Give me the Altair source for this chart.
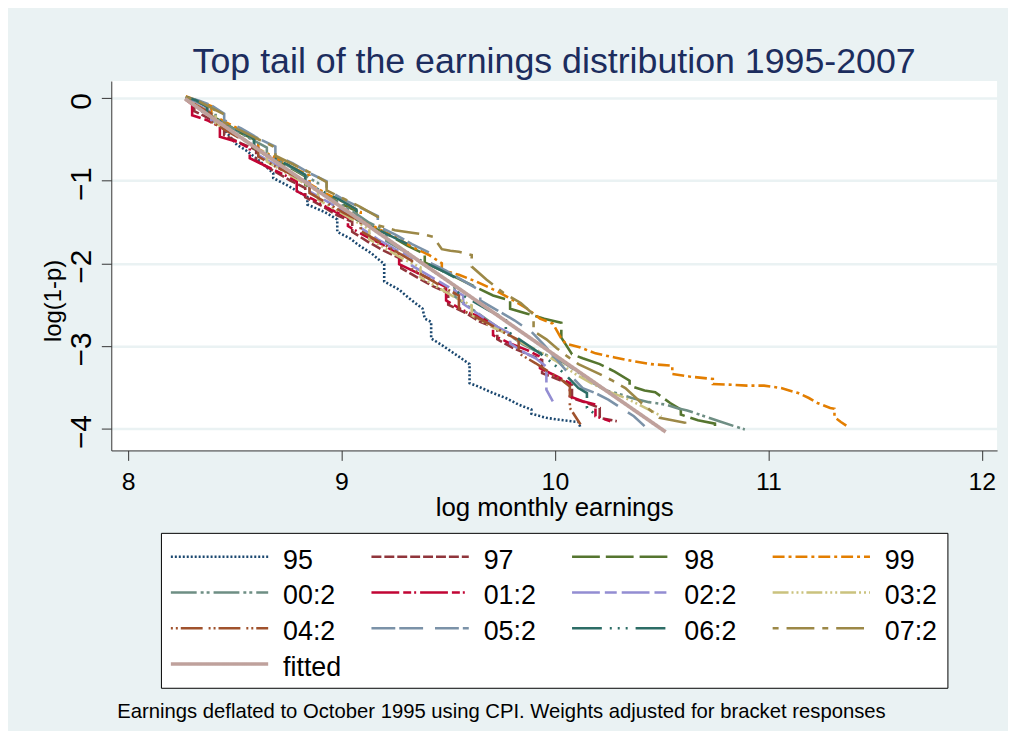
import altair as alt
import pandas as pd

FONT = "Liberation Sans"

series_names = ["95", "97", "98", "99", "00:2", "01:2", "02:2", "03:2",
                "04:2", "05:2", "06:2", "07:2", "fitted"]
series_colors = ["#1a476f", "#90353b", "#55752f", "#e37e00", "#6e8e84", "#c10534",
                 "#938dd2", "#cac27e", "#a0522d", "#7b92a8", "#2d6d66", "#9c8847", "#bfa19c"]
series_dashes = [[2, 2], [10, 3], [28, 6], [12, 4, 3, 4], [26, 4, 3, 3, 3, 4],
                 [28, 4, 8, 3, 2, 4], [28, 5, 12, 5], [16, 3, 2, 3, 2, 3, 2, 3],
                 [2, 3, 2, 3, 22, 6], [24, 4, 24, 12], [30, 8, 2, 6, 2, 6, 2, 8],
                 [6, 8, 28, 8], [1, 0]]

x_95 = [8.27, 8.32, 8.35, 8.39, 8.44, 8.51, 8.55, 8.61, 8.68, 8.68, 8.74, 8.84, 8.84, 8.92, 8.98, 8.98,
        9.04, 9.08, 9.14, 9.20, 9.20, 9.27, 9.32, 9.38, 9.39, 9.42, 9.42, 9.47, 9.55, 9.60, 9.60, 9.64,
        9.71, 9.77, 9.83, 9.89, 9.89, 9.96, 10.04, 10.11, 10.12]
y_95 = [-0.01, -0.10, -0.17, -0.23, -0.35, -0.57, -0.63, -0.75, -0.91, -0.97, -1.05, -1.20, -1.29, -1.38,
        -1.47, -1.62, -1.70, -1.78, -1.88, -2.01, -2.22, -2.32, -2.43, -2.55, -2.67, -2.71, -2.91, -2.99,
        -3.13, -3.22, -3.45, -3.49, -3.57, -3.63, -3.71, -3.77, -3.82, -3.87, -3.90, -3.92, -3.99]

x_97 = [8.27, 8.31, 8.31, 8.38, 8.45, 8.45, 8.53, 8.60, 8.60, 8.68, 8.76, 8.83, 8.83, 8.91, 8.98, 9.05,
        9.05, 9.13, 9.20, 9.28, 9.28, 9.36, 9.43, 9.50, 9.50, 9.58, 9.65, 9.73, 9.73, 9.80, 9.88, 9.94,
        9.94, 10.01, 10.08, 10.08, 10.15, 10.21, 10.21, 10.29]
y_97 = [-0.01, -0.06, -0.16, -0.25, -0.33, -0.45, -0.55, -0.63, -0.76, -0.88, -1.00, -1.09, -1.20, -1.31,
        -1.42, -1.50, -1.62, -1.75, -1.85, -1.95, -2.06, -2.18, -2.28, -2.36, -2.50, -2.60, -2.71, -2.79,
        -2.92, -3.02, -3.11, -3.17, -3.33, -3.40, -3.47, -3.63, -3.69, -3.75, -3.87, -3.91]

x_98 = [8.27, 8.32, 8.37, 8.37, 8.45, 8.53, 8.59, 8.59, 8.67, 8.75, 8.83, 8.83, 8.91, 8.99, 9.07, 9.07,
        9.15, 9.23, 9.31, 9.39, 9.39, 9.47, 9.55, 9.63, 9.71, 9.79, 9.79, 9.87, 9.95, 10.03, 10.03, 10.08,
        10.13, 10.21, 10.28, 10.35, 10.35, 10.42, 10.47, 10.54, 10.59, 10.59, 10.67, 10.75, 10.75]
y_98 = [0.0, -0.03, -0.10, -0.19, -0.30, -0.43, -0.50, -0.61, -0.73, -0.83, -0.95, -1.05, -1.15, -1.27,
        -1.37, -1.47, -1.57, -1.67, -1.79, -1.89, -1.99, -2.09, -2.19, -2.29, -2.39, -2.45, -2.55, -2.61,
        -2.67, -2.72, -2.90, -3.10, -3.15, -3.22, -3.31, -3.42, -3.48, -3.54, -3.56, -3.69, -3.77, -3.83,
        -3.90, -3.94, -4.02]

x_99 = [8.27, 8.33, 8.39, 8.39, 8.47, 8.55, 8.61, 8.61, 8.69, 8.77, 8.85, 8.85, 8.93, 9.01, 9.09, 9.09,
        9.17, 9.25, 9.33, 9.41, 9.47, 9.47, 9.55, 9.63, 9.73, 9.80, 9.87, 9.93, 9.99, 10.03, 10.05, 10.12,
        10.19, 10.28, 10.36, 10.45, 10.55, 10.55, 10.63, 10.74, 10.74, 10.83, 10.90, 10.98, 11.06, 11.14,
        11.19, 11.23, 11.29, 11.31, 11.31, 11.34, 11.38]
y_99 = [0.02, -0.04, -0.10, -0.20, -0.31, -0.42, -0.52, -0.62, -0.72, -0.84, -0.94, -1.04, -1.16, -1.26,
        -1.38, -1.46, -1.58, -1.68, -1.80, -1.90, -2.00, -2.08, -2.14, -2.22, -2.34, -2.44, -2.55, -2.67,
        -2.73, -2.91, -2.97, -3.02, -3.09, -3.14, -3.18, -3.22, -3.24, -3.34, -3.37, -3.40, -3.46, -3.47,
        -3.48, -3.48, -3.51, -3.57, -3.63, -3.69, -3.75, -3.76, -3.86, -3.92, -3.99]

x_00 = [8.27, 8.34, 8.41, 8.41, 8.49, 8.57, 8.65, 8.65, 8.73, 8.81, 8.89, 8.89, 8.97, 9.05, 9.13, 9.21,
        9.21, 9.29, 9.37, 9.45, 9.53, 9.53, 9.61, 9.69, 9.77, 9.85, 9.91, 9.97, 10.04, 10.11, 10.18, 10.24,
        10.30, 10.36, 10.44, 10.52, 10.57, 10.62, 10.70, 10.77, 10.84, 10.89]
y_00 = [0.0, -0.07, -0.15, -0.25, -0.37, -0.49, -0.60, -0.69, -0.79, -0.91, -1.03, -1.13, -1.25, -1.37,
        -1.51, -1.61, -1.73, -1.85, -1.99, -2.13, -2.27, -2.40, -2.55, -2.70, -2.84, -2.98, -3.06, -3.12,
        -3.20, -3.32, -3.45, -3.54, -3.58, -3.63, -3.68, -3.71, -3.75, -3.78, -3.85, -3.91, -3.97, -4.01]

x_01 = [8.27, 8.30, 8.30, 8.37, 8.43, 8.43, 8.51, 8.57, 8.57, 8.65, 8.73, 8.79, 8.79, 8.87, 8.95, 9.03,
        9.03, 9.11, 9.19, 9.27, 9.27, 9.35, 9.43, 9.49, 9.49, 9.57, 9.65, 9.71, 9.71, 9.79, 9.87, 9.93,
        9.93, 10.01, 10.07, 10.07, 10.13, 10.19, 10.19, 10.26]
y_01 = [-0.02, -0.08, -0.21, -0.27, -0.35, -0.47, -0.53, -0.61, -0.73, -0.83, -0.93, -1.01, -1.13, -1.23,
        -1.35, -1.45, -1.55, -1.67, -1.77, -1.89, -2.01, -2.11, -2.21, -2.29, -2.45, -2.57, -2.65, -2.75,
        -2.87, -2.97, -3.05, -3.13, -3.27, -3.37, -3.45, -3.61, -3.67, -3.71, -3.85, -3.91]

x_02 = [8.27, 8.33, 8.39, 8.39, 8.47, 8.55, 8.61, 8.61, 8.69, 8.77, 8.85, 8.85, 8.93, 9.01, 9.09, 9.09,
        9.17, 9.25, 9.33, 9.33, 9.41, 9.49, 9.57, 9.57, 9.65, 9.73, 9.79, 9.79, 9.85, 9.91, 9.96, 9.96, 9.99]
y_02 = [-0.01, -0.09, -0.17, -0.27, -0.39, -0.51, -0.61, -0.69, -0.81, -0.93, -1.03, -1.13, -1.25, -1.37,
        -1.47, -1.57, -1.71, -1.83, -1.93, -2.03, -2.15, -2.27, -2.39, -2.49, -2.63, -2.77, -2.85, -2.97,
        -3.07, -3.15, -3.25, -3.53, -3.67]

x_03 = [8.27, 8.34, 8.41, 8.41, 8.49, 8.57, 8.65, 8.65, 8.73, 8.81, 8.89, 8.89, 8.97, 9.05, 9.13, 9.13,
        9.21, 9.29, 9.37, 9.37, 9.45, 9.53, 9.61, 9.61, 9.69, 9.77, 9.85, 9.93, 10.01, 10.09, 10.17, 10.25,
        10.33, 10.41, 10.50]
y_03 = [-0.02, -0.11, -0.21, -0.31, -0.41, -0.55, -0.67, -0.77, -0.89, -1.01, -1.13, -1.23, -1.35, -1.47,
        -1.59, -1.71, -1.83, -1.95, -2.05, -2.17, -2.29, -2.41, -2.51, -2.63, -2.75, -2.85, -2.97, -3.07,
        -3.19, -3.33, -3.45, -3.55, -3.63, -3.73, -3.85]

x_04 = [8.27, 8.32, 8.39, 8.39, 8.47, 8.54, 8.61, 8.61, 8.69, 8.77, 8.85, 8.85, 8.93, 9.01, 9.09, 9.09,
        9.17, 9.25, 9.33, 9.33, 9.41, 9.49, 9.55, 9.55, 9.63, 9.69, 9.77, 9.83, 9.83, 9.91, 9.97, 10.03,
        10.07, 10.07, 10.12]
y_04 = [-0.01, -0.09, -0.19, -0.29, -0.41, -0.51, -0.61, -0.71, -0.83, -0.93, -1.05, -1.15, -1.27, -1.39,
        -1.49, -1.61, -1.73, -1.85, -1.97, -2.07, -2.19, -2.31, -2.39, -2.55, -2.65, -2.73, -2.85, -2.93,
        -3.09, -3.21, -3.31, -3.41, -3.49, -3.75, -3.95]

x_05 = [8.27, 8.33, 8.39, 8.45, 8.45, 8.53, 8.61, 8.69, 8.69, 8.77, 8.85, 8.93, 8.93, 9.01, 9.09, 9.17,
        9.17, 9.25, 9.33, 9.41, 9.41, 9.49, 9.57, 9.65, 9.65, 9.73, 9.81, 9.89, 9.95, 10.01, 10.07, 10.13,
        10.19, 10.25, 10.31, 10.37, 10.42]
y_05 = [0.01, -0.03, -0.09, -0.19, -0.27, -0.37, -0.49, -0.59, -0.69, -0.79, -0.91, -1.01, -1.11, -1.23,
        -1.33, -1.43, -1.55, -1.65, -1.77, -1.87, -1.99, -2.09, -2.21, -2.33, -2.45, -2.57, -2.69, -2.83,
        -2.99, -3.17, -3.35, -3.51, -3.57, -3.65, -3.75, -3.85, -3.97]

x_06 = [8.27, 8.32, 8.37, 8.37, 8.45, 8.53, 8.59, 8.59, 8.67, 8.75, 8.83, 8.83, 8.91, 8.99, 9.07, 9.07,
        9.15, 9.23, 9.31, 9.31, 9.39, 9.47, 9.53, 9.53, 9.61, 9.69, 9.77, 9.77, 9.85, 9.93, 9.99, 10.05,
        10.11, 10.15, 10.15, 10.19]
y_06 = [0.01, -0.03, -0.11, -0.21, -0.31, -0.41, -0.49, -0.61, -0.71, -0.81, -0.93, -1.03, -1.13, -1.23,
        -1.35, -1.47, -1.57, -1.67, -1.77, -1.89, -1.99, -2.09, -2.17, -2.33, -2.45, -2.57, -2.67, -2.81,
        -2.95, -3.09, -3.21, -3.35, -3.51, -3.57, -3.75, -3.83]

x_07 = [8.27, 8.33, 8.39, 8.45, 8.45, 8.53, 8.61, 8.69, 8.69, 8.77, 8.85, 8.93, 8.93, 9.01, 9.09, 9.17,
        9.17, 9.25, 9.33, 9.38, 9.43, 9.47, 9.51, 9.55, 9.61, 9.61, 9.68, 9.76, 9.84, 9.90, 9.90, 9.96,
        10.01, 10.06, 10.11, 10.16, 10.21, 10.27, 10.33, 10.41, 10.49, 10.55, 10.61, 10.61]
y_07 = [0.01, -0.04, -0.12, -0.20, -0.30, -0.40, -0.50, -0.60, -0.70, -0.80, -0.90, -1.02, -1.12, -1.22,
        -1.32, -1.44, -1.54, -1.60, -1.63, -1.65, -1.68, -1.83, -1.85, -1.86, -1.90, -2.04, -2.20, -2.36,
        -2.48, -2.62, -2.82, -2.92, -3.03, -3.13, -3.22, -3.28, -3.34, -3.42, -3.51, -3.70, -3.87, -3.90,
        -3.93, -3.99]

x_fit = [8.266, 10.519]
y_fit = [-0.01, -4.04]

footnote = "Earnings deflated to October 1995 using CPI. Weights adjusted for bracket responses"
chart_title = "Top tail of the earnings distribution 1995-2007"

all_x = [x_95, x_97, x_98, x_99, x_00, x_01, x_02, x_03, x_04, x_05, x_06, x_07, x_fit]
all_y = [y_95, y_97, y_98, y_99, y_00, y_01, y_02, y_03, y_04, y_05, y_06, y_07, y_fit]

rows = []
for name, xs, ys in zip(series_names, all_x, all_y):
    assert len(xs) == len(ys), name
    for i, (xv, yv) in enumerate(zip(xs, ys)):
        rows.append({"series": name, "x": xv, "y": yv, "idx": i})
df = pd.DataFrame(rows)

color_scale = alt.Scale(domain=series_names, range=series_colors)
dash_scale = alt.Scale(domain=series_names, range=series_dashes)

x_enc = alt.X("x:Q",
              scale=alt.Scale(domain=[7.921, 12.072], nice=False, zero=False),
              axis=alt.Axis(values=[8, 9, 10, 11, 12], title="log monthly earnings", grid=False,
                            labelFontSize=25, titleFontSize=26, tickSize=10,
                            labelBaseline="alphabetic", labelPadding=29,
                            titleBaseline="alphabetic", titlePadding=22))
y_enc = alt.Y("y:Q",
              scale=alt.Scale(domain=[-4.264, 0.204], nice=False, zero=False),
              axis=alt.Axis(values=[0, -1, -2, -3, -4], title="log(1-p)", grid=True,
                            gridColor="#eaf2f3", gridWidth=2.5,
                            labelFontSize=30, labelAngle=270, labelAlign="center",
                            labelBaseline="alphabetic", labelPadding=11, labelOffset=3,
                            titleFontSize=24, tickSize=10,
                            titleX=-46, titleY=221, titleAlign="center",
                            titleBaseline="bottom", titleAngle=270))

base = alt.Chart(df)
lines = base.transform_filter(alt.datum.series != "fitted").mark_line(strokeWidth=2.6).encode(
    x=x_enc, y=y_enc,
    color=alt.Color("series:N", scale=color_scale, legend=None),
    strokeDash=alt.StrokeDash("series:N", scale=dash_scale, legend=None),
    order=alt.Order("idx:Q"),
)
fitted = base.transform_filter(alt.datum.series == "fitted").mark_line(strokeWidth=3.8).encode(
    x=x_enc, y=y_enc,
    color=alt.Color("series:N", scale=color_scale, legend=None),
    strokeDash=alt.StrokeDash("series:N", scale=dash_scale, legend=None),
    order=alt.Order("idx:Q"),
)

main = alt.layer(lines, fitted).properties(
    width=892, height=372,
    title=alt.TitleParams(chart_title, anchor="middle", fontSize=36, color="#1c2d5e",
                          font=FONT, fontWeight="normal", baseline="alphabetic", offset=-28),
    view=alt.ViewBackground(fill="white", stroke=None),
)

# legend panel (built from the category list)
COL_W = 202
ROW_H = 36
leg = pd.DataFrame({"series": series_names})
leg["col"] = [i % 4 for i in range(len(series_names))]
leg["row"] = [i // 4 for i in range(len(series_names))]
leg["x0"] = 10 + leg["col"] * COL_W
leg["x1"] = leg["x0"] + 98
leg["xt"] = leg["x0"] + 113
leg["yy"] = 24 + leg["row"] * ROW_H
leg["w"] = [3.5 if s == "fitted" else 2.4 for s in series_names]

LW, LH = 792, 156
lx = alt.Scale(domain=[0, LW], nice=False, zero=False)
ly = alt.Scale(domain=[0, LH], nice=False, zero=False, reverse=True)

leg_base = alt.Chart(leg)
leg_lines = leg_base.mark_rule().encode(
    x=alt.X("x0:Q", scale=lx, axis=None),
    x2="x1:Q",
    y=alt.Y("yy:Q", scale=ly, axis=None),
    color=alt.Color("series:N", scale=color_scale, legend=None),
    strokeDash=alt.StrokeDash("series:N", scale=dash_scale, legend=None),
    strokeWidth=alt.StrokeWidth("w:Q", scale=None, legend=None),
)
leg_text = leg_base.mark_text(align="left", baseline="alphabetic", dy=12, fontSize=27,
                              font=FONT, color="black").encode(
    x=alt.X("xt:Q", scale=lx, axis=None),
    y=alt.Y("yy:Q", scale=ly, axis=None),
    text="series:N",
)
legend_panel = alt.layer(leg_lines, leg_text).properties(
    width=LW, height=LH,
    view=alt.ViewBackground(fill="white", stroke="black", strokeWidth=1),
    title=alt.TitleParams(footnote, orient="bottom", anchor="start", fontSize=20.4, font=FONT,
                          fontWeight="normal", color="black", baseline="alphabetic",
                          offset=30, dx=-44),
)

chart = alt.vconcat(main, legend_panel, spacing=83, center=True, bounds="flush").properties(
    background="#eaf2f3",
    padding={"left": 34, "top": 34, "right": 11, "bottom": 6},
).configure_axis(
    labelFont=FONT, titleFont=FONT, labelColor="black", titleColor="black",
    titleFontWeight="normal", domainColor="#333333", tickColor="#333333",
    domainWidth=1, tickWidth=1,
).configure_view(strokeWidth=0)

chart.save("out.html", embed_options={"renderer": "svg", "actions": False})
